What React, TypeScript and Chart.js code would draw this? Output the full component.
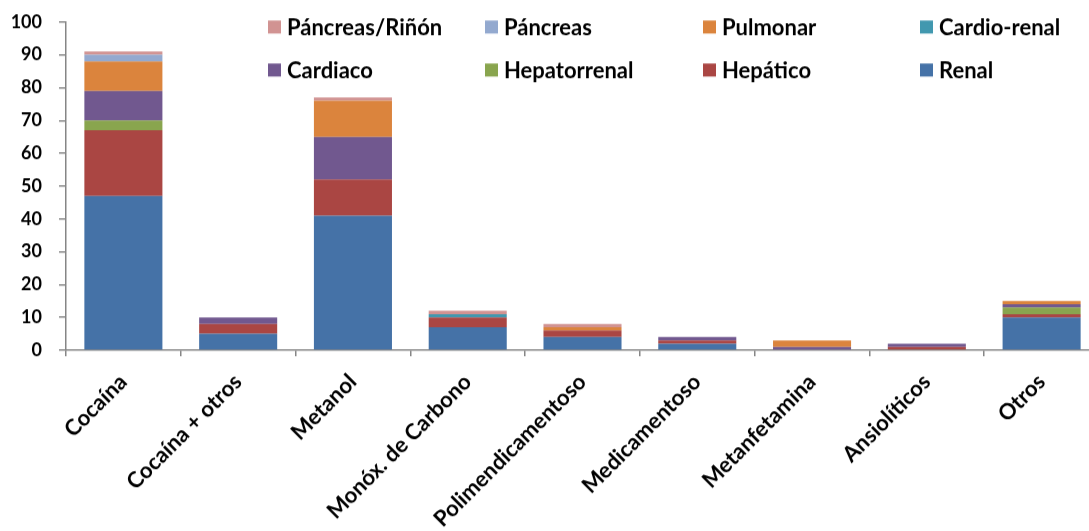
import React, { useEffect, useRef } from 'react';
import { Chart, registerables } from 'chart.js';

Chart.register(...registerables);

const categories = [
  'Cocaína',
  'Cocaína + otros',
  'Metanol',
  'Monóx. de Carbono',
  'Polimendicamentoso',
  'Medicamentoso',
  'Metanfetamina',
  'Ansiolíticos',
  'Otros',
];

const renal = [47, 5, 41, 7, 4, 2, 0, 0, 10];
const hepatico = [20, 3, 11, 3, 2, 1, 0, 1, 1];
const hepatorrenal = [3, 0, 0, 0, 0, 0, 0, 0, 2];
const cardiaco = [9, 2, 13, 0, 0, 1, 1, 1, 1];
const cardioRenal = [0, 0, 0, 1, 0, 0, 0, 0, 0];
const pulmonar = [9, 0, 11, 0, 1, 0, 2, 0, 1];
const pancreas = [2, 0, 0, 0, 0, 0, 0, 0, 0];
const pancreasRinon = [1, 0, 1, 1, 1, 0, 0, 0, 0];

const seriesNames = ['Renal', 'Hepático', 'Hepatorrenal', 'Cardiaco', 'Cardio-renal', 'Pulmonar', 'Páncreas', 'Páncreas/Riñón'];
const seriesValues = [renal, hepatico, hepatorrenal, cardiaco, cardioRenal, pulmonar, pancreas, pancreasRinon];
const seriesColors = ['#4572A7', '#AA4643', '#89A54E', '#71588F', '#4198AF', '#DB843D', '#93A9CF', '#D19392'];

const yMin = 0;
const yMax = 100;
const yStep = 10;

const FONT = 'Lato, "Open Sans", sans-serif';
const PLOT_TOP = 22; // where the value 100 sits on the page

// Legend drawn as a 4-column grid inside the plot (as in the original)
const gridLegend = {
  id: 'gridLegend',
  afterDraw(chart: any) {
    const ctx = chart.ctx;
    const off = chart.chartArea.top - PLOT_TOP; // canvas is shifted up by this amount
    const items = chart.data.datasets.map((d: any) => ({ text: d.label, color: d.backgroundColor })).reverse();
    const colX = [268, 485, 703, 920];
    const rowY = [27, 70];
    ctx.save();
    ctx.font = `bold 22px ${FONT}`;
    ctx.textBaseline = 'middle';
    ctx.textAlign = 'left';
    items.forEach((it: any, i: number) => {
      const x = colX[i % 4];
      const y = rowY[Math.floor(i / 4)] + off;
      ctx.fillStyle = it.color;
      ctx.fillRect(x, y - 6.5, 13, 13);
      ctx.fillStyle = '#000';
      ctx.fillText(it.text, x + 19, y + 1);
    });
    ctx.restore();
  },
};

// Category labels rotated 45°, ending at each category centre
const rotatedLabels = {
  id: 'rotatedLabels',
  afterDraw(chart: any) {
    const ctx = chart.ctx;
    const xs = chart.scales.x;
    ctx.save();
    ctx.font = `bold 22px ${FONT}`;
    ctx.textAlign = 'right';
    ctx.textBaseline = 'alphabetic';
    ctx.fillStyle = '#000';
    (chart.data.labels as string[]).forEach((lab, i) => {
      const x = xs.getPixelForTick(i);
      ctx.save();
      ctx.translate(x + 5, xs.top + 33);
      ctx.rotate(-Math.PI / 4);
      ctx.fillText(lab, 0, 0);
      ctx.restore();
    });
    ctx.restore();
  },
};

export default function App() {
  const ref = useRef<HTMLCanvasElement>(null);

  useEffect(() => {
    if (!ref.current) return;
    const chart = new Chart(ref.current, {
      type: 'bar',
      data: {
        labels: categories,
        datasets: seriesNames.map((name, i) => ({
          label: name,
          data: seriesValues[i],
          backgroundColor: seriesColors[i],
          borderWidth: 0,
          barPercentage: 0.68,
          categoryPercentage: 1,
        })),
      },
      options: {
        animation: false,
        responsive: false,
        devicePixelRatio: 1,
        layout: { padding: { top: 0, right: 1, left: 0, bottom: 0 } },
        plugins: {
          legend: { display: false },
          tooltip: { enabled: false },
        },
        scales: {
          x: {
            stacked: true,
            afterFit: (scale: any) => {
              scale.height = 181;
            },
            grid: {
              offset: true,
              drawOnChartArea: false,
              drawTicks: true,
              tickLength: 6,
              color: '#868686',
              lineWidth: 1.5,
            },
            border: { color: '#868686', width: 1.5 },
            ticks: {
              display: false,
              autoSkip: false,
            },
          },
          y: {
            stacked: true,
            min: yMin,
            max: yMax,
            afterFit: (scale: any) => {
              scale.width = 66;
            },
            grid: {
              drawOnChartArea: false,
              drawTicks: true,
              tickLength: 7,
              color: '#868686',
              lineWidth: 1.5,
            },
            border: { color: '#868686', width: 1.5 },
            ticks: {
              stepSize: yStep,
              padding: 17,
              color: '#000',
              font: { family: FONT, size: 18, weight: 'bold' },
            },
          },
        },
      },
      plugins: [gridLegend, rotatedLabels],
    });
    const shift = PLOT_TOP - chart.chartArea.top;
    ref.current.style.transform = `translateY(${shift}px)`;
    return () => chart.destroy();
  }, []);

  return (
    <div style={{ position: 'fixed', left: 0, top: 0, width: 1089, height: 531, overflow: 'hidden', background: '#fff' }}>
      <canvas ref={ref} width={1100} height={537} style={{ display: 'block' }} />
    </div>
  );
}
